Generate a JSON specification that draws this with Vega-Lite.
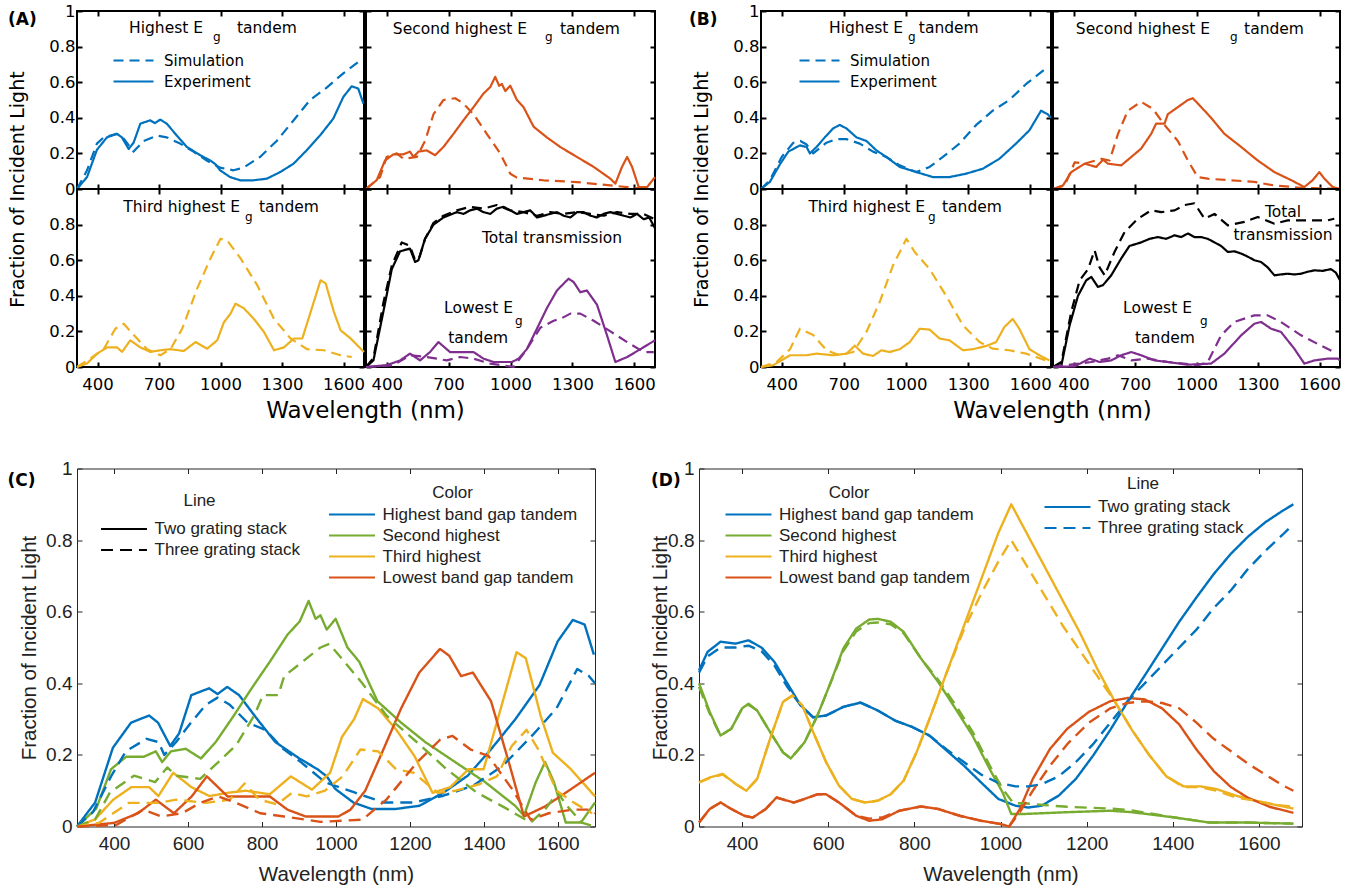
{
"$schema":"https://vega.github.io/schema/vega-lite/v6.json",
"background":"white",
"padding":{"left":7,"top":2,"right":5,"bottom":5},
"config":{
 "view":{"stroke":"black","strokeWidth":2},
 "axis":{"domain":false,"grid":false,"tickColor":"black","tickWidth":2,"tickSize":-5,"labelColor":"black","labelFont":"DejaVu Sans","labelFontSize":16.5,"labelPadding":7,"labelFlush":false,"labelOverlap":false,"titleColor":"black","titleFont":"DejaVu Sans","titleFontWeight":"normal","titleFontSize":21},
 "axisBottom":{"labelPadding":14},
 "line":{"strokeWidth":2.2,"strokeJoin":"round"},
 "text":{"font":"DejaVu Sans","fontSize":15.5,"color":"black"}
},
"datasets":{
"A":[
{"x":300,"y":0,"c":"hi","t":"E"},{"x":349,"y":0.067,"c":"hi","t":"E"},{"x":397,"y":0.22,"c":"hi","t":"E"},{"x":446,"y":0.29,"c":"hi","t":"E"},{"x":495,"y":0.31,"c":"hi","t":"E"},{"x":519,"y":0.29,"c":"hi","t":"E"},{"x":552,"y":0.225,"c":"hi","t":"E"},{"x":576,"y":0.26,"c":"hi","t":"E"},{"x":609,"y":0.367,"c":"hi","t":"E"},{"x":657,"y":0.386,"c":"hi","t":"E"},{"x":680,"y":0.37,"c":"hi","t":"E"},{"x":706,"y":0.39,"c":"hi","t":"E"},{"x":738,"y":0.367,"c":"hi","t":"E"},{"x":787,"y":0.3,"c":"hi","t":"E"},{"x":836,"y":0.236,"c":"hi","t":"E"},{"x":901,"y":0.19,"c":"hi","t":"E"},{"x":950,"y":0.16,"c":"hi","t":"E"},{"x":975,"y":0.14,"c":"hi","t":"E"},{"x":998,"y":0.105,"c":"hi","t":"E"},{"x":1047,"y":0.067,"c":"hi","t":"E"},{"x":1096,"y":0.049,"c":"hi","t":"E"},{"x":1161,"y":0.049,"c":"hi","t":"E"},{"x":1226,"y":0.058,"c":"hi","t":"E"},{"x":1291,"y":0.095,"c":"hi","t":"E"},{"x":1356,"y":0.142,"c":"hi","t":"E"},{"x":1420,"y":0.217,"c":"hi","t":"E"},{"x":1485,"y":0.3,"c":"hi","t":"E"},{"x":1550,"y":0.395,"c":"hi","t":"E"},{"x":1599,"y":0.517,"c":"hi","t":"E"},{"x":1640,"y":0.577,"c":"hi","t":"E"},{"x":1672,"y":0.564,"c":"hi","t":"E"},{"x":1697,"y":0.48,"c":"hi","t":"E"},
{"x":300,"y":0,"c":"hi","t":"S"},{"x":349,"y":0.105,"c":"hi","t":"S"},{"x":397,"y":0.255,"c":"hi","t":"S"},{"x":430,"y":0.29,"c":"hi","t":"S"},{"x":495,"y":0.31,"c":"hi","t":"S"},{"x":530,"y":0.28,"c":"hi","t":"S"},{"x":576,"y":0.21,"c":"hi","t":"S"},{"x":625,"y":0.27,"c":"hi","t":"S"},{"x":690,"y":0.3,"c":"hi","t":"S"},{"x":738,"y":0.29,"c":"hi","t":"S"},{"x":803,"y":0.255,"c":"hi","t":"S"},{"x":868,"y":0.21,"c":"hi","t":"S"},{"x":933,"y":0.16,"c":"hi","t":"S"},{"x":998,"y":0.12,"c":"hi","t":"S"},{"x":1063,"y":0.105,"c":"hi","t":"S"},{"x":1112,"y":0.12,"c":"hi","t":"S"},{"x":1193,"y":0.18,"c":"hi","t":"S"},{"x":1274,"y":0.27,"c":"hi","t":"S"},{"x":1356,"y":0.385,"c":"hi","t":"S"},{"x":1437,"y":0.5,"c":"hi","t":"S"},{"x":1518,"y":0.57,"c":"hi","t":"S"},{"x":1599,"y":0.65,"c":"hi","t":"S"},{"x":1680,"y":0.72,"c":"hi","t":"S"},
{"x":300,"y":0,"c":"se","t":"E"},{"x":352,"y":0.05,"c":"se","t":"E"},{"x":392,"y":0.16,"c":"se","t":"E"},{"x":433,"y":0.195,"c":"se","t":"E"},{"x":481,"y":0.195,"c":"se","t":"E"},{"x":513,"y":0.21,"c":"se","t":"E"},{"x":530,"y":0.18,"c":"se","t":"E"},{"x":554,"y":0.21,"c":"se","t":"E"},{"x":594,"y":0.217,"c":"se","t":"E"},{"x":635,"y":0.19,"c":"se","t":"E"},{"x":675,"y":0.236,"c":"se","t":"E"},{"x":724,"y":0.31,"c":"se","t":"E"},{"x":772,"y":0.386,"c":"se","t":"E"},{"x":821,"y":0.46,"c":"se","t":"E"},{"x":869,"y":0.536,"c":"se","t":"E"},{"x":902,"y":0.573,"c":"se","t":"E"},{"x":926,"y":0.63,"c":"se","t":"E"},{"x":945,"y":0.58,"c":"se","t":"E"},{"x":958,"y":0.59,"c":"se","t":"E"},{"x":975,"y":0.55,"c":"se","t":"E"},{"x":999,"y":0.58,"c":"se","t":"E"},{"x":1031,"y":0.5,"c":"se","t":"E"},{"x":1063,"y":0.46,"c":"se","t":"E"},{"x":1112,"y":0.35,"c":"se","t":"E"},{"x":1176,"y":0.29,"c":"se","t":"E"},{"x":1241,"y":0.236,"c":"se","t":"E"},{"x":1322,"y":0.18,"c":"se","t":"E"},{"x":1403,"y":0.124,"c":"se","t":"E"},{"x":1484,"y":0.058,"c":"se","t":"E"},{"x":1508,"y":0.03,"c":"se","t":"E"},{"x":1540,"y":0.124,"c":"se","t":"E"},{"x":1565,"y":0.18,"c":"se","t":"E"},{"x":1589,"y":0.124,"c":"se","t":"E"},{"x":1621,"y":0.011,"c":"se","t":"E"},{"x":1662,"y":0.011,"c":"se","t":"E"},{"x":1700,"y":0.067,"c":"se","t":"E"},
{"x":300,"y":0,"c":"se","t":"S"},{"x":368,"y":0.067,"c":"se","t":"S"},{"x":400,"y":0.18,"c":"se","t":"S"},{"x":449,"y":0.2,"c":"se","t":"S"},{"x":481,"y":0.17,"c":"se","t":"S"},{"x":546,"y":0.18,"c":"se","t":"S"},{"x":586,"y":0.27,"c":"se","t":"S"},{"x":627,"y":0.42,"c":"se","t":"S"},{"x":675,"y":0.5,"c":"se","t":"S"},{"x":732,"y":0.51,"c":"se","t":"S"},{"x":772,"y":0.48,"c":"se","t":"S"},{"x":821,"y":0.42,"c":"se","t":"S"},{"x":885,"y":0.31,"c":"se","t":"S"},{"x":950,"y":0.2,"c":"se","t":"S"},{"x":999,"y":0.086,"c":"se","t":"S"},{"x":1031,"y":0.064,"c":"se","t":"S"},{"x":1160,"y":0.049,"c":"se","t":"S"},{"x":1322,"y":0.039,"c":"se","t":"S"},{"x":1484,"y":0.02,"c":"se","t":"S"},{"x":1565,"y":0.011,"c":"se","t":"S"},{"x":1645,"y":0,"c":"se","t":"S"},{"x":1700,"y":0,"c":"se","t":"S"},
{"x":300,"y":0,"c":"th","t":"E"},{"x":349,"y":0.02,"c":"th","t":"E"},{"x":398,"y":0.075,"c":"th","t":"E"},{"x":447,"y":0.11,"c":"th","t":"E"},{"x":495,"y":0.11,"c":"th","t":"E"},{"x":520,"y":0.085,"c":"th","t":"E"},{"x":560,"y":0.15,"c":"th","t":"E"},{"x":609,"y":0.11,"c":"th","t":"E"},{"x":658,"y":0.085,"c":"th","t":"E"},{"x":707,"y":0.094,"c":"th","t":"E"},{"x":756,"y":0.1,"c":"th","t":"E"},{"x":821,"y":0.09,"c":"th","t":"E"},{"x":878,"y":0.14,"c":"th","t":"E"},{"x":935,"y":0.103,"c":"th","t":"E"},{"x":984,"y":0.15,"c":"th","t":"E"},{"x":1016,"y":0.25,"c":"th","t":"E"},{"x":1049,"y":0.3,"c":"th","t":"E"},{"x":1073,"y":0.356,"c":"th","t":"E"},{"x":1114,"y":0.33,"c":"th","t":"E"},{"x":1163,"y":0.27,"c":"th","t":"E"},{"x":1212,"y":0.197,"c":"th","t":"E"},{"x":1261,"y":0.094,"c":"th","t":"E"},{"x":1309,"y":0.11,"c":"th","t":"E"},{"x":1358,"y":0.16,"c":"th","t":"E"},{"x":1399,"y":0.16,"c":"th","t":"E"},{"x":1440,"y":0.31,"c":"th","t":"E"},{"x":1488,"y":0.487,"c":"th","t":"E"},{"x":1513,"y":0.47,"c":"th","t":"E"},{"x":1553,"y":0.31,"c":"th","t":"E"},{"x":1586,"y":0.206,"c":"th","t":"E"},{"x":1635,"y":0.16,"c":"th","t":"E"},{"x":1700,"y":0.084,"c":"th","t":"E"},
{"x":300,"y":0,"c":"th","t":"S"},{"x":365,"y":0.047,"c":"th","t":"S"},{"x":430,"y":0.1,"c":"th","t":"S"},{"x":487,"y":0.215,"c":"th","t":"S"},{"x":528,"y":0.243,"c":"th","t":"S"},{"x":577,"y":0.18,"c":"th","t":"S"},{"x":642,"y":0.1,"c":"th","t":"S"},{"x":707,"y":0.066,"c":"th","t":"S"},{"x":756,"y":0.1,"c":"th","t":"S"},{"x":813,"y":0.215,"c":"th","t":"S"},{"x":886,"y":0.44,"c":"th","t":"S"},{"x":951,"y":0.61,"c":"th","t":"S"},{"x":1000,"y":0.72,"c":"th","t":"S"},{"x":1033,"y":0.71,"c":"th","t":"S"},{"x":1098,"y":0.61,"c":"th","t":"S"},{"x":1179,"y":0.46,"c":"th","t":"S"},{"x":1261,"y":0.27,"c":"th","t":"S"},{"x":1342,"y":0.16,"c":"th","t":"S"},{"x":1423,"y":0.1,"c":"th","t":"S"},{"x":1505,"y":0.094,"c":"th","t":"S"},{"x":1586,"y":0.066,"c":"th","t":"S"},{"x":1640,"y":0.056,"c":"th","t":"S"},
{"x":300,"y":0,"c":"tot","t":"E"},{"x":336,"y":0.037,"c":"tot","t":"E"},{"x":384,"y":0.31,"c":"tot","t":"E"},{"x":425,"y":0.55,"c":"tot","t":"E"},{"x":465,"y":0.65,"c":"tot","t":"E"},{"x":513,"y":0.665,"c":"tot","t":"E"},{"x":538,"y":0.59,"c":"tot","t":"E"},{"x":554,"y":0.6,"c":"tot","t":"E"},{"x":586,"y":0.72,"c":"tot","t":"E"},{"x":627,"y":0.8,"c":"tot","t":"E"},{"x":675,"y":0.84,"c":"tot","t":"E"},{"x":740,"y":0.87,"c":"tot","t":"E"},{"x":772,"y":0.86,"c":"tot","t":"E"},{"x":804,"y":0.88,"c":"tot","t":"E"},{"x":837,"y":0.89,"c":"tot","t":"E"},{"x":869,"y":0.87,"c":"tot","t":"E"},{"x":902,"y":0.86,"c":"tot","t":"E"},{"x":934,"y":0.89,"c":"tot","t":"E"},{"x":966,"y":0.9,"c":"tot","t":"E"},{"x":999,"y":0.88,"c":"tot","t":"E"},{"x":1031,"y":0.86,"c":"tot","t":"E"},{"x":1063,"y":0.87,"c":"tot","t":"E"},{"x":1096,"y":0.88,"c":"tot","t":"E"},{"x":1128,"y":0.84,"c":"tot","t":"E"},{"x":1160,"y":0.85,"c":"tot","t":"E"},{"x":1193,"y":0.86,"c":"tot","t":"E"},{"x":1225,"y":0.87,"c":"tot","t":"E"},{"x":1257,"y":0.85,"c":"tot","t":"E"},{"x":1290,"y":0.84,"c":"tot","t":"E"},{"x":1322,"y":0.87,"c":"tot","t":"E"},{"x":1355,"y":0.87,"c":"tot","t":"E"},{"x":1387,"y":0.85,"c":"tot","t":"E"},{"x":1419,"y":0.84,"c":"tot","t":"E"},{"x":1451,"y":0.86,"c":"tot","t":"E"},{"x":1484,"y":0.87,"c":"tot","t":"E"},{"x":1516,"y":0.86,"c":"tot","t":"E"},{"x":1549,"y":0.85,"c":"tot","t":"E"},{"x":1581,"y":0.84,"c":"tot","t":"E"},{"x":1613,"y":0.86,"c":"tot","t":"E"},{"x":1645,"y":0.83,"c":"tot","t":"E"},{"x":1672,"y":0.84,"c":"tot","t":"E"},{"x":1700,"y":0.78,"c":"tot","t":"E"},
{"x":300,"y":0,"c":"tot","t":"S"},{"x":336,"y":0.05,"c":"tot","t":"S"},{"x":384,"y":0.36,"c":"tot","t":"S"},{"x":425,"y":0.57,"c":"tot","t":"S"},{"x":473,"y":0.7,"c":"tot","t":"S"},{"x":513,"y":0.68,"c":"tot","t":"S"},{"x":538,"y":0.6,"c":"tot","t":"S"},{"x":560,"y":0.62,"c":"tot","t":"S"},{"x":586,"y":0.72,"c":"tot","t":"S"},{"x":627,"y":0.81,"c":"tot","t":"S"},{"x":675,"y":0.85,"c":"tot","t":"S"},{"x":740,"y":0.88,"c":"tot","t":"S"},{"x":804,"y":0.9,"c":"tot","t":"S"},{"x":869,"y":0.89,"c":"tot","t":"S"},{"x":934,"y":0.91,"c":"tot","t":"S"},{"x":999,"y":0.88,"c":"tot","t":"S"},{"x":1063,"y":0.87,"c":"tot","t":"S"},{"x":1128,"y":0.85,"c":"tot","t":"S"},{"x":1193,"y":0.87,"c":"tot","t":"S"},{"x":1257,"y":0.86,"c":"tot","t":"S"},{"x":1322,"y":0.87,"c":"tot","t":"S"},{"x":1387,"y":0.86,"c":"tot","t":"S"},{"x":1451,"y":0.85,"c":"tot","t":"S"},{"x":1516,"y":0.87,"c":"tot","t":"S"},{"x":1581,"y":0.86,"c":"tot","t":"S"},{"x":1645,"y":0.86,"c":"tot","t":"S"},{"x":1700,"y":0.83,"c":"tot","t":"S"},
{"x":300,"y":0,"c":"lo","t":"E"},{"x":400,"y":0.01,"c":"lo","t":"E"},{"x":465,"y":0.037,"c":"lo","t":"E"},{"x":513,"y":0.075,"c":"lo","t":"E"},{"x":562,"y":0.037,"c":"lo","t":"E"},{"x":610,"y":0.084,"c":"lo","t":"E"},{"x":651,"y":0.14,"c":"lo","t":"E"},{"x":707,"y":0.084,"c":"lo","t":"E"},{"x":756,"y":0.084,"c":"lo","t":"E"},{"x":821,"y":0.084,"c":"lo","t":"E"},{"x":869,"y":0.047,"c":"lo","t":"E"},{"x":918,"y":0.028,"c":"lo","t":"E"},{"x":1007,"y":0.028,"c":"lo","t":"E"},{"x":1039,"y":0.047,"c":"lo","t":"E"},{"x":1079,"y":0.1,"c":"lo","t":"E"},{"x":1128,"y":0.215,"c":"lo","t":"E"},{"x":1176,"y":0.33,"c":"lo","t":"E"},{"x":1225,"y":0.43,"c":"lo","t":"E"},{"x":1281,"y":0.496,"c":"lo","t":"E"},{"x":1306,"y":0.477,"c":"lo","t":"E"},{"x":1338,"y":0.42,"c":"lo","t":"E"},{"x":1370,"y":0.43,"c":"lo","t":"E"},{"x":1419,"y":0.35,"c":"lo","t":"E"},{"x":1467,"y":0.18,"c":"lo","t":"E"},{"x":1508,"y":0.028,"c":"lo","t":"E"},{"x":1565,"y":0.056,"c":"lo","t":"E"},{"x":1629,"y":0.1,"c":"lo","t":"E"},{"x":1700,"y":0.15,"c":"lo","t":"E"},
{"x":300,"y":0,"c":"lo","t":"S"},{"x":433,"y":0.01,"c":"lo","t":"S"},{"x":513,"y":0.066,"c":"lo","t":"S"},{"x":594,"y":0.056,"c":"lo","t":"S"},{"x":643,"y":0.047,"c":"lo","t":"S"},{"x":691,"y":0.037,"c":"lo","t":"S"},{"x":756,"y":0.056,"c":"lo","t":"S"},{"x":821,"y":0.047,"c":"lo","t":"S"},{"x":902,"y":0.019,"c":"lo","t":"S"},{"x":1015,"y":0,"c":"lo","t":"S"},{"x":1079,"y":0.1,"c":"lo","t":"S"},{"x":1144,"y":0.22,"c":"lo","t":"S"},{"x":1209,"y":0.26,"c":"lo","t":"S"},{"x":1241,"y":0.27,"c":"lo","t":"S"},{"x":1290,"y":0.3,"c":"lo","t":"S"},{"x":1338,"y":0.3,"c":"lo","t":"S"},{"x":1403,"y":0.26,"c":"lo","t":"S"},{"x":1484,"y":0.2,"c":"lo","t":"S"},{"x":1565,"y":0.14,"c":"lo","t":"S"},{"x":1645,"y":0.084,"c":"lo","t":"S"},{"x":1694,"y":0.084,"c":"lo","t":"S"}
],
"B":[
{"x":300,"y":0,"c":"hi","t":"E"},{"x":343,"y":0.04,"c":"hi","t":"E"},{"x":392,"y":0.14,"c":"hi","t":"E"},{"x":432,"y":0.21,"c":"hi","t":"E"},{"x":488,"y":0.245,"c":"hi","t":"E"},{"x":520,"y":0.236,"c":"hi","t":"E"},{"x":536,"y":0.2,"c":"hi","t":"E"},{"x":568,"y":0.236,"c":"hi","t":"E"},{"x":608,"y":0.29,"c":"hi","t":"E"},{"x":648,"y":0.34,"c":"hi","t":"E"},{"x":680,"y":0.36,"c":"hi","t":"E"},{"x":713,"y":0.34,"c":"hi","t":"E"},{"x":761,"y":0.29,"c":"hi","t":"E"},{"x":809,"y":0.27,"c":"hi","t":"E"},{"x":857,"y":0.217,"c":"hi","t":"E"},{"x":905,"y":0.18,"c":"hi","t":"E"},{"x":970,"y":0.124,"c":"hi","t":"E"},{"x":1050,"y":0.095,"c":"hi","t":"E"},{"x":1130,"y":0.067,"c":"hi","t":"E"},{"x":1210,"y":0.067,"c":"hi","t":"E"},{"x":1290,"y":0.086,"c":"hi","t":"E"},{"x":1371,"y":0.114,"c":"hi","t":"E"},{"x":1451,"y":0.17,"c":"hi","t":"E"},{"x":1531,"y":0.255,"c":"hi","t":"E"},{"x":1596,"y":0.33,"c":"hi","t":"E"},{"x":1652,"y":0.44,"c":"hi","t":"E"},{"x":1684,"y":0.42,"c":"hi","t":"E"},{"x":1700,"y":0.4,"c":"hi","t":"E"},
{"x":300,"y":0,"c":"hi","t":"S"},{"x":343,"y":0.05,"c":"hi","t":"S"},{"x":400,"y":0.18,"c":"hi","t":"S"},{"x":456,"y":0.26,"c":"hi","t":"S"},{"x":490,"y":0.27,"c":"hi","t":"S"},{"x":520,"y":0.25,"c":"hi","t":"S"},{"x":552,"y":0.2,"c":"hi","t":"S"},{"x":616,"y":0.26,"c":"hi","t":"S"},{"x":664,"y":0.28,"c":"hi","t":"S"},{"x":713,"y":0.28,"c":"hi","t":"S"},{"x":777,"y":0.255,"c":"hi","t":"S"},{"x":841,"y":0.21,"c":"hi","t":"S"},{"x":905,"y":0.18,"c":"hi","t":"S"},{"x":970,"y":0.133,"c":"hi","t":"S"},{"x":1050,"y":0.095,"c":"hi","t":"S"},{"x":1114,"y":0.124,"c":"hi","t":"S"},{"x":1178,"y":0.18,"c":"hi","t":"S"},{"x":1258,"y":0.255,"c":"hi","t":"S"},{"x":1339,"y":0.36,"c":"hi","t":"S"},{"x":1419,"y":0.44,"c":"hi","t":"S"},{"x":1499,"y":0.5,"c":"hi","t":"S"},{"x":1580,"y":0.59,"c":"hi","t":"S"},{"x":1668,"y":0.67,"c":"hi","t":"S"},
{"x":300,"y":0,"c":"se","t":"E"},{"x":349,"y":0.02,"c":"se","t":"E"},{"x":389,"y":0.095,"c":"se","t":"E"},{"x":454,"y":0.142,"c":"se","t":"E"},{"x":511,"y":0.124,"c":"se","t":"E"},{"x":544,"y":0.165,"c":"se","t":"E"},{"x":568,"y":0.142,"c":"se","t":"E"},{"x":633,"y":0.133,"c":"se","t":"E"},{"x":682,"y":0.18,"c":"se","t":"E"},{"x":730,"y":0.227,"c":"se","t":"E"},{"x":779,"y":0.31,"c":"se","t":"E"},{"x":803,"y":0.367,"c":"se","t":"E"},{"x":844,"y":0.367,"c":"se","t":"E"},{"x":860,"y":0.42,"c":"se","t":"E"},{"x":909,"y":0.46,"c":"se","t":"E"},{"x":958,"y":0.5,"c":"se","t":"E"},{"x":982,"y":0.51,"c":"se","t":"E"},{"x":1023,"y":0.46,"c":"se","t":"E"},{"x":1071,"y":0.4,"c":"se","t":"E"},{"x":1136,"y":0.31,"c":"se","t":"E"},{"x":1218,"y":0.236,"c":"se","t":"E"},{"x":1299,"y":0.16,"c":"se","t":"E"},{"x":1380,"y":0.095,"c":"se","t":"E"},{"x":1461,"y":0.05,"c":"se","t":"E"},{"x":1526,"y":0.011,"c":"se","t":"E"},{"x":1567,"y":0.05,"c":"se","t":"E"},{"x":1599,"y":0.095,"c":"se","t":"E"},{"x":1624,"y":0.058,"c":"se","t":"E"},{"x":1664,"y":0.011,"c":"se","t":"E"},{"x":1700,"y":0,"c":"se","t":"E"},
{"x":300,"y":0,"c":"se","t":"S"},{"x":357,"y":0.02,"c":"se","t":"S"},{"x":406,"y":0.15,"c":"se","t":"S"},{"x":454,"y":0.142,"c":"se","t":"S"},{"x":536,"y":0.17,"c":"se","t":"S"},{"x":576,"y":0.16,"c":"se","t":"S"},{"x":617,"y":0.31,"c":"se","t":"S"},{"x":665,"y":0.44,"c":"se","t":"S"},{"x":730,"y":0.49,"c":"se","t":"S"},{"x":787,"y":0.45,"c":"se","t":"S"},{"x":844,"y":0.36,"c":"se","t":"S"},{"x":909,"y":0.27,"c":"se","t":"S"},{"x":958,"y":0.16,"c":"se","t":"S"},{"x":1006,"y":0.067,"c":"se","t":"S"},{"x":1055,"y":0.058,"c":"se","t":"S"},{"x":1153,"y":0.05,"c":"se","t":"S"},{"x":1282,"y":0.04,"c":"se","t":"S"},{"x":1380,"y":0.02,"c":"se","t":"S"},{"x":1510,"y":0.007,"c":"se","t":"S"},{"x":1700,"y":0,"c":"se","t":"S"},
{"x":300,"y":0,"c":"th","t":"E"},{"x":359,"y":0.01,"c":"th","t":"E"},{"x":440,"y":0.066,"c":"th","t":"E"},{"x":520,"y":0.066,"c":"th","t":"E"},{"x":568,"y":0.075,"c":"th","t":"E"},{"x":648,"y":0.066,"c":"th","t":"E"},{"x":713,"y":0.075,"c":"th","t":"E"},{"x":753,"y":0.12,"c":"th","t":"E"},{"x":793,"y":0.075,"c":"th","t":"E"},{"x":841,"y":0.062,"c":"th","t":"E"},{"x":881,"y":0.094,"c":"th","t":"E"},{"x":921,"y":0.084,"c":"th","t":"E"},{"x":970,"y":0.1,"c":"th","t":"E"},{"x":1018,"y":0.14,"c":"th","t":"E"},{"x":1066,"y":0.215,"c":"th","t":"E"},{"x":1114,"y":0.21,"c":"th","t":"E"},{"x":1162,"y":0.16,"c":"th","t":"E"},{"x":1210,"y":0.15,"c":"th","t":"E"},{"x":1275,"y":0.094,"c":"th","t":"E"},{"x":1323,"y":0.1,"c":"th","t":"E"},{"x":1387,"y":0.118,"c":"th","t":"E"},{"x":1435,"y":0.14,"c":"th","t":"E"},{"x":1475,"y":0.225,"c":"th","t":"E"},{"x":1515,"y":0.27,"c":"th","t":"E"},{"x":1547,"y":0.215,"c":"th","t":"E"},{"x":1596,"y":0.1,"c":"th","t":"E"},{"x":1644,"y":0.066,"c":"th","t":"E"},{"x":1692,"y":0.037,"c":"th","t":"E"},
{"x":300,"y":0,"c":"th","t":"S"},{"x":375,"y":0.028,"c":"th","t":"S"},{"x":440,"y":0.1,"c":"th","t":"S"},{"x":488,"y":0.215,"c":"th","t":"S"},{"x":552,"y":0.18,"c":"th","t":"S"},{"x":616,"y":0.094,"c":"th","t":"S"},{"x":680,"y":0.066,"c":"th","t":"S"},{"x":745,"y":0.084,"c":"th","t":"S"},{"x":809,"y":0.197,"c":"th","t":"S"},{"x":873,"y":0.365,"c":"th","t":"S"},{"x":937,"y":0.57,"c":"th","t":"S"},{"x":1002,"y":0.72,"c":"th","t":"S"},{"x":1042,"y":0.646,"c":"th","t":"S"},{"x":1114,"y":0.55,"c":"th","t":"S"},{"x":1194,"y":0.4,"c":"th","t":"S"},{"x":1275,"y":0.234,"c":"th","t":"S"},{"x":1355,"y":0.14,"c":"th","t":"S"},{"x":1419,"y":0.103,"c":"th","t":"S"},{"x":1499,"y":0.094,"c":"th","t":"S"},{"x":1580,"y":0.075,"c":"th","t":"S"},{"x":1676,"y":0.037,"c":"th","t":"S"},
{"x":300,"y":0,"c":"tot","t":"E"},{"x":341,"y":0.01,"c":"tot","t":"E"},{"x":381,"y":0.234,"c":"tot","t":"E"},{"x":422,"y":0.4,"c":"tot","t":"E"},{"x":462,"y":0.487,"c":"tot","t":"E"},{"x":487,"y":0.506,"c":"tot","t":"E"},{"x":519,"y":0.45,"c":"tot","t":"E"},{"x":544,"y":0.46,"c":"tot","t":"E"},{"x":584,"y":0.515,"c":"tot","t":"E"},{"x":633,"y":0.61,"c":"tot","t":"E"},{"x":673,"y":0.68,"c":"tot","t":"E"},{"x":730,"y":0.7,"c":"tot","t":"E"},{"x":771,"y":0.72,"c":"tot","t":"E"},{"x":812,"y":0.73,"c":"tot","t":"E"},{"x":852,"y":0.72,"c":"tot","t":"E"},{"x":893,"y":0.74,"c":"tot","t":"E"},{"x":925,"y":0.73,"c":"tot","t":"E"},{"x":958,"y":0.75,"c":"tot","t":"E"},{"x":990,"y":0.73,"c":"tot","t":"E"},{"x":1023,"y":0.73,"c":"tot","t":"E"},{"x":1055,"y":0.72,"c":"tot","t":"E"},{"x":1088,"y":0.7,"c":"tot","t":"E"},{"x":1120,"y":0.68,"c":"tot","t":"E"},{"x":1153,"y":0.646,"c":"tot","t":"E"},{"x":1185,"y":0.65,"c":"tot","t":"E"},{"x":1218,"y":0.637,"c":"tot","t":"E"},{"x":1250,"y":0.62,"c":"tot","t":"E"},{"x":1282,"y":0.6,"c":"tot","t":"E"},{"x":1315,"y":0.59,"c":"tot","t":"E"},{"x":1347,"y":0.56,"c":"tot","t":"E"},{"x":1380,"y":0.515,"c":"tot","t":"E"},{"x":1412,"y":0.52,"c":"tot","t":"E"},{"x":1445,"y":0.524,"c":"tot","t":"E"},{"x":1477,"y":0.52,"c":"tot","t":"E"},{"x":1510,"y":0.524,"c":"tot","t":"E"},{"x":1542,"y":0.535,"c":"tot","t":"E"},{"x":1575,"y":0.543,"c":"tot","t":"E"},{"x":1615,"y":0.54,"c":"tot","t":"E"},{"x":1656,"y":0.55,"c":"tot","t":"E"},{"x":1680,"y":0.53,"c":"tot","t":"E"},{"x":1700,"y":0.487,"c":"tot","t":"E"},
{"x":300,"y":0,"c":"tot","t":"S"},{"x":341,"y":0.028,"c":"tot","t":"S"},{"x":389,"y":0.31,"c":"tot","t":"S"},{"x":430,"y":0.487,"c":"tot","t":"S"},{"x":471,"y":0.55,"c":"tot","t":"S"},{"x":503,"y":0.655,"c":"tot","t":"S"},{"x":527,"y":0.56,"c":"tot","t":"S"},{"x":552,"y":0.515,"c":"tot","t":"S"},{"x":600,"y":0.646,"c":"tot","t":"S"},{"x":649,"y":0.758,"c":"tot","t":"S"},{"x":714,"y":0.833,"c":"tot","t":"S"},{"x":779,"y":0.88,"c":"tot","t":"S"},{"x":828,"y":0.87,"c":"tot","t":"S"},{"x":893,"y":0.88,"c":"tot","t":"S"},{"x":942,"y":0.91,"c":"tot","t":"S"},{"x":990,"y":0.92,"c":"tot","t":"S"},{"x":1039,"y":0.833,"c":"tot","t":"S"},{"x":1088,"y":0.86,"c":"tot","t":"S"},{"x":1153,"y":0.796,"c":"tot","t":"S"},{"x":1234,"y":0.815,"c":"tot","t":"S"},{"x":1299,"y":0.843,"c":"tot","t":"S"},{"x":1380,"y":0.805,"c":"tot","t":"S"},{"x":1445,"y":0.824,"c":"tot","t":"S"},{"x":1542,"y":0.824,"c":"tot","t":"S"},{"x":1640,"y":0.824,"c":"tot","t":"S"},{"x":1672,"y":0.833,"c":"tot","t":"S"},
{"x":300,"y":0,"c":"lo","t":"E"},{"x":406,"y":0.004,"c":"lo","t":"E"},{"x":479,"y":0.047,"c":"lo","t":"E"},{"x":527,"y":0.028,"c":"lo","t":"E"},{"x":584,"y":0.037,"c":"lo","t":"E"},{"x":633,"y":0.066,"c":"lo","t":"E"},{"x":682,"y":0.084,"c":"lo","t":"E"},{"x":730,"y":0.066,"c":"lo","t":"E"},{"x":795,"y":0.037,"c":"lo","t":"E"},{"x":860,"y":0.028,"c":"lo","t":"E"},{"x":958,"y":0.013,"c":"lo","t":"E"},{"x":1071,"y":0.019,"c":"lo","t":"E"},{"x":1136,"y":0.075,"c":"lo","t":"E"},{"x":1218,"y":0.178,"c":"lo","t":"E"},{"x":1282,"y":0.243,"c":"lo","t":"E"},{"x":1315,"y":0.253,"c":"lo","t":"E"},{"x":1364,"y":0.215,"c":"lo","t":"E"},{"x":1412,"y":0.197,"c":"lo","t":"E"},{"x":1477,"y":0.103,"c":"lo","t":"E"},{"x":1526,"y":0.019,"c":"lo","t":"E"},{"x":1575,"y":0.037,"c":"lo","t":"E"},{"x":1640,"y":0.047,"c":"lo","t":"E"},{"x":1689,"y":0.047,"c":"lo","t":"E"},{"x":1700,"y":0.037,"c":"lo","t":"E"},
{"x":300,"y":0,"c":"lo","t":"S"},{"x":487,"y":0.028,"c":"lo","t":"S"},{"x":568,"y":0.047,"c":"lo","t":"S"},{"x":617,"y":0.066,"c":"lo","t":"S"},{"x":682,"y":0.037,"c":"lo","t":"S"},{"x":763,"y":0.047,"c":"lo","t":"S"},{"x":860,"y":0.028,"c":"lo","t":"S"},{"x":1006,"y":0.01,"c":"lo","t":"S"},{"x":1055,"y":0.028,"c":"lo","t":"S"},{"x":1120,"y":0.178,"c":"lo","t":"S"},{"x":1185,"y":0.253,"c":"lo","t":"S"},{"x":1282,"y":0.29,"c":"lo","t":"S"},{"x":1347,"y":0.29,"c":"lo","t":"S"},{"x":1412,"y":0.253,"c":"lo","t":"S"},{"x":1510,"y":0.178,"c":"lo","t":"S"},{"x":1607,"y":0.12,"c":"lo","t":"S"},{"x":1672,"y":0.084,"c":"lo","t":"S"}
],
"D":[
{"x":300,"y":0.436,"c":"hi","t":"2"},{"x":320,"y":0.488,"c":"hi","t":"2"},{"x":350,"y":0.516,"c":"hi","t":"2"},{"x":385,"y":0.511,"c":"hi","t":"2"},{"x":415,"y":0.52,"c":"hi","t":"2"},{"x":445,"y":0.5,"c":"hi","t":"2"},{"x":475,"y":0.46,"c":"hi","t":"2"},{"x":505,"y":0.4,"c":"hi","t":"2"},{"x":535,"y":0.34,"c":"hi","t":"2"},{"x":565,"y":0.305,"c":"hi","t":"2"},{"x":595,"y":0.31,"c":"hi","t":"2"},{"x":635,"y":0.334,"c":"hi","t":"2"},{"x":675,"y":0.346,"c":"hi","t":"2"},{"x":715,"y":0.324,"c":"hi","t":"2"},{"x":755,"y":0.296,"c":"hi","t":"2"},{"x":795,"y":0.278,"c":"hi","t":"2"},{"x":835,"y":0.254,"c":"hi","t":"2"},{"x":875,"y":0.212,"c":"hi","t":"2"},{"x":915,"y":0.17,"c":"hi","t":"2"},{"x":955,"y":0.123,"c":"hi","t":"2"},{"x":995,"y":0.077,"c":"hi","t":"2"},{"x":1035,"y":0.058,"c":"hi","t":"2"},{"x":1065,"y":0.053,"c":"hi","t":"2"},{"x":1095,"y":0.058,"c":"hi","t":"2"},{"x":1135,"y":0.086,"c":"hi","t":"2"},{"x":1175,"y":0.133,"c":"hi","t":"2"},{"x":1215,"y":0.198,"c":"hi","t":"2"},{"x":1255,"y":0.27,"c":"hi","t":"2"},{"x":1295,"y":0.348,"c":"hi","t":"2"},{"x":1335,"y":0.422,"c":"hi","t":"2"},{"x":1375,"y":0.497,"c":"hi","t":"2"},{"x":1415,"y":0.572,"c":"hi","t":"2"},{"x":1455,"y":0.64,"c":"hi","t":"2"},{"x":1495,"y":0.705,"c":"hi","t":"2"},{"x":1535,"y":0.762,"c":"hi","t":"2"},{"x":1575,"y":0.81,"c":"hi","t":"2"},{"x":1615,"y":0.85,"c":"hi","t":"2"},{"x":1655,"y":0.882,"c":"hi","t":"2"},{"x":1680,"y":0.9,"c":"hi","t":"2"},
{"x":300,"y":0.43,"c":"hi","t":"3"},{"x":320,"y":0.475,"c":"hi","t":"3"},{"x":350,"y":0.5,"c":"hi","t":"3"},{"x":385,"y":0.5,"c":"hi","t":"3"},{"x":415,"y":0.505,"c":"hi","t":"3"},{"x":445,"y":0.49,"c":"hi","t":"3"},{"x":475,"y":0.45,"c":"hi","t":"3"},{"x":505,"y":0.39,"c":"hi","t":"3"},{"x":535,"y":0.34,"c":"hi","t":"3"},{"x":565,"y":0.305,"c":"hi","t":"3"},{"x":595,"y":0.31,"c":"hi","t":"3"},{"x":635,"y":0.334,"c":"hi","t":"3"},{"x":675,"y":0.346,"c":"hi","t":"3"},{"x":715,"y":0.324,"c":"hi","t":"3"},{"x":755,"y":0.296,"c":"hi","t":"3"},{"x":795,"y":0.278,"c":"hi","t":"3"},{"x":835,"y":0.254,"c":"hi","t":"3"},{"x":875,"y":0.215,"c":"hi","t":"3"},{"x":915,"y":0.18,"c":"hi","t":"3"},{"x":955,"y":0.145,"c":"hi","t":"3"},{"x":995,"y":0.122,"c":"hi","t":"3"},{"x":1035,"y":0.112,"c":"hi","t":"3"},{"x":1065,"y":0.112,"c":"hi","t":"3"},{"x":1095,"y":0.118,"c":"hi","t":"3"},{"x":1135,"y":0.14,"c":"hi","t":"3"},{"x":1175,"y":0.18,"c":"hi","t":"3"},{"x":1215,"y":0.23,"c":"hi","t":"3"},{"x":1255,"y":0.29,"c":"hi","t":"3"},{"x":1295,"y":0.35,"c":"hi","t":"3"},{"x":1335,"y":0.4,"c":"hi","t":"3"},{"x":1375,"y":0.45,"c":"hi","t":"3"},{"x":1415,"y":0.5,"c":"hi","t":"3"},{"x":1455,"y":0.55,"c":"hi","t":"3"},{"x":1495,"y":0.61,"c":"hi","t":"3"},{"x":1535,"y":0.66,"c":"hi","t":"3"},{"x":1575,"y":0.72,"c":"hi","t":"3"},{"x":1615,"y":0.77,"c":"hi","t":"3"},{"x":1655,"y":0.815,"c":"hi","t":"3"},{"x":1680,"y":0.845,"c":"hi","t":"3"},
{"x":300,"y":0.4,"c":"se","t":"2"},{"x":325,"y":0.32,"c":"se","t":"2"},{"x":350,"y":0.254,"c":"se","t":"2"},{"x":375,"y":0.273,"c":"se","t":"2"},{"x":400,"y":0.33,"c":"se","t":"2"},{"x":415,"y":0.343,"c":"se","t":"2"},{"x":435,"y":0.324,"c":"se","t":"2"},{"x":465,"y":0.264,"c":"se","t":"2"},{"x":495,"y":0.207,"c":"se","t":"2"},{"x":513,"y":0.19,"c":"se","t":"2"},{"x":545,"y":0.235,"c":"se","t":"2"},{"x":575,"y":0.31,"c":"se","t":"2"},{"x":605,"y":0.4,"c":"se","t":"2"},{"x":635,"y":0.497,"c":"se","t":"2"},{"x":665,"y":0.553,"c":"se","t":"2"},{"x":695,"y":0.578,"c":"se","t":"2"},{"x":715,"y":0.58,"c":"se","t":"2"},{"x":745,"y":0.572,"c":"se","t":"2"},{"x":775,"y":0.544,"c":"se","t":"2"},{"x":815,"y":0.47,"c":"se","t":"2"},{"x":855,"y":0.404,"c":"se","t":"2"},{"x":895,"y":0.33,"c":"se","t":"2"},{"x":935,"y":0.254,"c":"se","t":"2"},{"x":975,"y":0.16,"c":"se","t":"2"},{"x":1005,"y":0.095,"c":"se","t":"2"},{"x":1025,"y":0.035,"c":"se","t":"2"},{"x":1055,"y":0.035,"c":"se","t":"2"},{"x":1155,"y":0.04,"c":"se","t":"2"},{"x":1255,"y":0.044,"c":"se","t":"2"},{"x":1305,"y":0.04,"c":"se","t":"2"},{"x":1405,"y":0.025,"c":"se","t":"2"},{"x":1485,"y":0.011,"c":"se","t":"2"},{"x":1575,"y":0.011,"c":"se","t":"2"},{"x":1680,"y":0.008,"c":"se","t":"2"},
{"x":300,"y":0.39,"c":"se","t":"3"},{"x":325,"y":0.315,"c":"se","t":"3"},{"x":350,"y":0.254,"c":"se","t":"3"},{"x":375,"y":0.273,"c":"se","t":"3"},{"x":400,"y":0.33,"c":"se","t":"3"},{"x":415,"y":0.34,"c":"se","t":"3"},{"x":435,"y":0.324,"c":"se","t":"3"},{"x":465,"y":0.264,"c":"se","t":"3"},{"x":495,"y":0.207,"c":"se","t":"3"},{"x":513,"y":0.19,"c":"se","t":"3"},{"x":545,"y":0.235,"c":"se","t":"3"},{"x":575,"y":0.31,"c":"se","t":"3"},{"x":605,"y":0.4,"c":"se","t":"3"},{"x":635,"y":0.49,"c":"se","t":"3"},{"x":665,"y":0.545,"c":"se","t":"3"},{"x":695,"y":0.568,"c":"se","t":"3"},{"x":715,"y":0.57,"c":"se","t":"3"},{"x":745,"y":0.565,"c":"se","t":"3"},{"x":775,"y":0.54,"c":"se","t":"3"},{"x":815,"y":0.47,"c":"se","t":"3"},{"x":855,"y":0.41,"c":"se","t":"3"},{"x":895,"y":0.34,"c":"se","t":"3"},{"x":935,"y":0.265,"c":"se","t":"3"},{"x":975,"y":0.17,"c":"se","t":"3"},{"x":1005,"y":0.105,"c":"se","t":"3"},{"x":1030,"y":0.065,"c":"se","t":"3"},{"x":1055,"y":0.065,"c":"se","t":"3"},{"x":1100,"y":0.06,"c":"se","t":"3"},{"x":1155,"y":0.055,"c":"se","t":"3"},{"x":1255,"y":0.05,"c":"se","t":"3"},{"x":1305,"y":0.045,"c":"se","t":"3"},{"x":1405,"y":0.025,"c":"se","t":"3"},{"x":1485,"y":0.011,"c":"se","t":"3"},{"x":1575,"y":0.011,"c":"se","t":"3"},{"x":1680,"y":0.008,"c":"se","t":"3"},
{"x":300,"y":0.123,"c":"th","t":"2"},{"x":325,"y":0.137,"c":"th","t":"2"},{"x":355,"y":0.147,"c":"th","t":"2"},{"x":385,"y":0.119,"c":"th","t":"2"},{"x":410,"y":0.1,"c":"th","t":"2"},{"x":435,"y":0.133,"c":"th","t":"2"},{"x":465,"y":0.245,"c":"th","t":"2"},{"x":495,"y":0.348,"c":"th","t":"2"},{"x":517,"y":0.366,"c":"th","t":"2"},{"x":540,"y":0.338,"c":"th","t":"2"},{"x":565,"y":0.264,"c":"th","t":"2"},{"x":595,"y":0.18,"c":"th","t":"2"},{"x":625,"y":0.114,"c":"th","t":"2"},{"x":655,"y":0.077,"c":"th","t":"2"},{"x":685,"y":0.067,"c":"th","t":"2"},{"x":715,"y":0.072,"c":"th","t":"2"},{"x":745,"y":0.09,"c":"th","t":"2"},{"x":775,"y":0.128,"c":"th","t":"2"},{"x":805,"y":0.207,"c":"th","t":"2"},{"x":835,"y":0.3,"c":"th","t":"2"},{"x":875,"y":0.43,"c":"th","t":"2"},{"x":915,"y":0.56,"c":"th","t":"2"},{"x":955,"y":0.69,"c":"th","t":"2"},{"x":995,"y":0.82,"c":"th","t":"2"},{"x":1025,"y":0.9,"c":"th","t":"2"},{"x":1065,"y":0.81,"c":"th","t":"2"},{"x":1105,"y":0.72,"c":"th","t":"2"},{"x":1145,"y":0.63,"c":"th","t":"2"},{"x":1185,"y":0.54,"c":"th","t":"2"},{"x":1225,"y":0.44,"c":"th","t":"2"},{"x":1265,"y":0.35,"c":"th","t":"2"},{"x":1305,"y":0.27,"c":"th","t":"2"},{"x":1345,"y":0.2,"c":"th","t":"2"},{"x":1385,"y":0.14,"c":"th","t":"2"},{"x":1425,"y":0.112,"c":"th","t":"2"},{"x":1465,"y":0.112,"c":"th","t":"2"},{"x":1500,"y":0.105,"c":"th","t":"2"},{"x":1550,"y":0.085,"c":"th","t":"2"},{"x":1600,"y":0.07,"c":"th","t":"2"},{"x":1640,"y":0.06,"c":"th","t":"2"},{"x":1680,"y":0.05,"c":"th","t":"2"},
{"x":300,"y":0.123,"c":"th","t":"3"},{"x":325,"y":0.135,"c":"th","t":"3"},{"x":355,"y":0.145,"c":"th","t":"3"},{"x":385,"y":0.119,"c":"th","t":"3"},{"x":410,"y":0.1,"c":"th","t":"3"},{"x":435,"y":0.133,"c":"th","t":"3"},{"x":465,"y":0.245,"c":"th","t":"3"},{"x":495,"y":0.348,"c":"th","t":"3"},{"x":517,"y":0.366,"c":"th","t":"3"},{"x":540,"y":0.338,"c":"th","t":"3"},{"x":565,"y":0.264,"c":"th","t":"3"},{"x":595,"y":0.18,"c":"th","t":"3"},{"x":625,"y":0.114,"c":"th","t":"3"},{"x":655,"y":0.077,"c":"th","t":"3"},{"x":685,"y":0.067,"c":"th","t":"3"},{"x":715,"y":0.072,"c":"th","t":"3"},{"x":745,"y":0.09,"c":"th","t":"3"},{"x":775,"y":0.128,"c":"th","t":"3"},{"x":805,"y":0.207,"c":"th","t":"3"},{"x":835,"y":0.3,"c":"th","t":"3"},{"x":875,"y":0.43,"c":"th","t":"3"},{"x":915,"y":0.55,"c":"th","t":"3"},{"x":955,"y":0.65,"c":"th","t":"3"},{"x":995,"y":0.74,"c":"th","t":"3"},{"x":1025,"y":0.8,"c":"th","t":"3"},{"x":1065,"y":0.72,"c":"th","t":"3"},{"x":1105,"y":0.64,"c":"th","t":"3"},{"x":1145,"y":0.56,"c":"th","t":"3"},{"x":1185,"y":0.49,"c":"th","t":"3"},{"x":1225,"y":0.42,"c":"th","t":"3"},{"x":1265,"y":0.35,"c":"th","t":"3"},{"x":1305,"y":0.27,"c":"th","t":"3"},{"x":1345,"y":0.2,"c":"th","t":"3"},{"x":1385,"y":0.14,"c":"th","t":"3"},{"x":1425,"y":0.11,"c":"th","t":"3"},{"x":1465,"y":0.11,"c":"th","t":"3"},{"x":1500,"y":0.1,"c":"th","t":"3"},{"x":1550,"y":0.08,"c":"th","t":"3"},{"x":1600,"y":0.07,"c":"th","t":"3"},{"x":1640,"y":0.06,"c":"th","t":"3"},{"x":1680,"y":0.055,"c":"th","t":"3"},
{"x":300,"y":0.011,"c":"lo","t":"2"},{"x":325,"y":0.049,"c":"lo","t":"2"},{"x":350,"y":0.067,"c":"lo","t":"2"},{"x":375,"y":0.049,"c":"lo","t":"2"},{"x":405,"y":0.03,"c":"lo","t":"2"},{"x":425,"y":0.025,"c":"lo","t":"2"},{"x":455,"y":0.049,"c":"lo","t":"2"},{"x":480,"y":0.081,"c":"lo","t":"2"},{"x":505,"y":0.072,"c":"lo","t":"2"},{"x":520,"y":0.067,"c":"lo","t":"2"},{"x":545,"y":0.077,"c":"lo","t":"2"},{"x":575,"y":0.09,"c":"lo","t":"2"},{"x":595,"y":0.09,"c":"lo","t":"2"},{"x":625,"y":0.067,"c":"lo","t":"2"},{"x":665,"y":0.03,"c":"lo","t":"2"},{"x":695,"y":0.016,"c":"lo","t":"2"},{"x":725,"y":0.02,"c":"lo","t":"2"},{"x":765,"y":0.044,"c":"lo","t":"2"},{"x":815,"y":0.056,"c":"lo","t":"2"},{"x":855,"y":0.049,"c":"lo","t":"2"},{"x":905,"y":0.03,"c":"lo","t":"2"},{"x":955,"y":0.016,"c":"lo","t":"2"},{"x":1000,"y":0.007,"c":"lo","t":"2"},{"x":1020,"y":0,"c":"lo","t":"2"},{"x":1045,"y":0.049,"c":"lo","t":"2"},{"x":1075,"y":0.133,"c":"lo","t":"2"},{"x":1115,"y":0.217,"c":"lo","t":"2"},{"x":1155,"y":0.273,"c":"lo","t":"2"},{"x":1205,"y":0.32,"c":"lo","t":"2"},{"x":1255,"y":0.35,"c":"lo","t":"2"},{"x":1295,"y":0.359,"c":"lo","t":"2"},{"x":1335,"y":0.355,"c":"lo","t":"2"},{"x":1375,"y":0.33,"c":"lo","t":"2"},{"x":1415,"y":0.285,"c":"lo","t":"2"},{"x":1455,"y":0.215,"c":"lo","t":"2"},{"x":1495,"y":0.155,"c":"lo","t":"2"},{"x":1535,"y":0.11,"c":"lo","t":"2"},{"x":1575,"y":0.08,"c":"lo","t":"2"},{"x":1625,"y":0.055,"c":"lo","t":"2"},{"x":1680,"y":0.038,"c":"lo","t":"2"},
{"x":300,"y":0.011,"c":"lo","t":"3"},{"x":325,"y":0.049,"c":"lo","t":"3"},{"x":350,"y":0.067,"c":"lo","t":"3"},{"x":375,"y":0.049,"c":"lo","t":"3"},{"x":405,"y":0.03,"c":"lo","t":"3"},{"x":425,"y":0.025,"c":"lo","t":"3"},{"x":455,"y":0.049,"c":"lo","t":"3"},{"x":480,"y":0.081,"c":"lo","t":"3"},{"x":505,"y":0.072,"c":"lo","t":"3"},{"x":520,"y":0.067,"c":"lo","t":"3"},{"x":545,"y":0.077,"c":"lo","t":"3"},{"x":575,"y":0.09,"c":"lo","t":"3"},{"x":595,"y":0.09,"c":"lo","t":"3"},{"x":625,"y":0.067,"c":"lo","t":"3"},{"x":665,"y":0.03,"c":"lo","t":"3"},{"x":695,"y":0.022,"c":"lo","t":"3"},{"x":725,"y":0.025,"c":"lo","t":"3"},{"x":765,"y":0.044,"c":"lo","t":"3"},{"x":815,"y":0.056,"c":"lo","t":"3"},{"x":855,"y":0.049,"c":"lo","t":"3"},{"x":905,"y":0.03,"c":"lo","t":"3"},{"x":955,"y":0.016,"c":"lo","t":"3"},{"x":1000,"y":0.007,"c":"lo","t":"3"},{"x":1020,"y":0,"c":"lo","t":"3"},{"x":1045,"y":0.04,"c":"lo","t":"3"},{"x":1075,"y":0.1,"c":"lo","t":"3"},{"x":1115,"y":0.17,"c":"lo","t":"3"},{"x":1155,"y":0.23,"c":"lo","t":"3"},{"x":1205,"y":0.29,"c":"lo","t":"3"},{"x":1255,"y":0.33,"c":"lo","t":"3"},{"x":1295,"y":0.345,"c":"lo","t":"3"},{"x":1335,"y":0.35,"c":"lo","t":"3"},{"x":1375,"y":0.345,"c":"lo","t":"3"},{"x":1415,"y":0.33,"c":"lo","t":"3"},{"x":1455,"y":0.29,"c":"lo","t":"3"},{"x":1495,"y":0.245,"c":"lo","t":"3"},{"x":1535,"y":0.21,"c":"lo","t":"3"},{"x":1575,"y":0.175,"c":"lo","t":"3"},{"x":1615,"y":0.145,"c":"lo","t":"3"},{"x":1655,"y":0.115,"c":"lo","t":"3"},{"x":1680,"y":0.1,"c":"lo","t":"3"}
]
},
"spacing":35.5,
"resolve":{"scale":{"x":"independent","y":"independent","color":"independent","strokeDash":"independent"},"axis":{"x":"independent","y":"independent"},"legend":{"color":"independent","strokeDash":"independent"}},
"vconcat":[
{"columns":5,
 "spacing":{"row":0,"column":2},
 "bounds":"flush",
 "resolve":{"scale":{"x":"independent","y":"independent","color":"independent","strokeDash":"independent"},"axis":{"x":"independent","y":"independent"},"legend":{"color":"independent","strokeDash":"independent"}},
 "concat":[
{"width":287,"height":178,
 "title":{"text":"(A)","anchor":"start","frame":"group","orient":"top","offset":0,"dx":-69,"dy":26,"baseline":"top","font":"DejaVu Sans","fontSize":17,"fontWeight":"bold","color":"black"},
 "data":{"name":"A"},
 "layer":[
  {"transform":[{"filter":"datum.c=='hi'&&datum.t=='E'"}],"mark":{"type":"line","color":"#0072BD"},"encoding":{
   "x":{"field":"x","type":"quantitative","scale":{"domain":[300,1700],"nice":false,"zero":false},"axis":{"orient":"bottom","values":[400,700,1000,1300,1600],"labels":false,"title":null}},
   "y":{"field":"y","type":"quantitative","scale":{"domain":[0,1],"nice":false,"zero":false},"axis":{"orient":"left","values":[0,0.2,0.4,0.6,0.8,1],"format":".1~f","title":"Fraction of Incident Light","titleX":-60,"titleY":178,"titleAngle":270,"titleAlign":"center","titleBaseline":"middle","titleFontSize":19}},
   "strokeDash":{"field":"t","type":"nominal","scale":{"domain":["S","E"],"range":[[10,6],[1,0]]},"legend":{"orient":"none","legendX":35,"legendY":40.5,"title":null,"symbolType":"stroke","symbolSize":1600,"symbolStrokeWidth":2.2,"symbolStrokeColor":"#0072BD","clipHeight":18,"rowPadding":3,"labelFont":"DejaVu Sans","labelFontSize":15,"labelColor":"black","labelOffset":9,"labelExpr":"datum.label=='S'?'Simulation':'Experiment'"}}}},
  {"transform":[{"filter":"datum.c=='hi'&&datum.t=='S'"}],"mark":{"type":"line","color":"#0072BD"},"encoding":{
   "x":{"field":"x","type":"quantitative","axis":{"orient":"top","values":[400,700,1000,1300,1600],"labels":false,"title":null}},
   "y":{"field":"y","type":"quantitative","axis":{"orient":"right","values":[0,0.2,0.4,0.6,0.8,1],"labels":false,"title":null}},
   "strokeDash":{"field":"t","type":"nominal","legend":{"orient":"none","legendX":35,"legendY":40.5,"title":null,"symbolType":"stroke","symbolSize":1600,"symbolStrokeWidth":2.2,"symbolStrokeColor":"#0072BD","clipHeight":18,"rowPadding":3,"labelFont":"DejaVu Sans","labelFontSize":15,"labelColor":"black","labelOffset":9,"labelExpr":"datum.label=='S'?'Simulation':'Experiment'"}}}},
  {"data":{"values":[{}]},"mark":{"type":"text","align":"right","baseline":"alphabetic"},"encoding":{"x":{"datum":915,"type":"quantitative","axis":null},"y":{"datum":0.875,"type":"quantitative","axis":null},"text":{"value":"Highest E"}}},
  {"data":{"values":[{}]},"mark":{"type":"text","align":"left","baseline":"alphabetic","fontSize":12},"encoding":{"x":{"datum":963,"type":"quantitative","axis":null},"y":{"datum":0.83,"type":"quantitative","axis":null},"text":{"value":"g"}}},
  {"data":{"values":[{}]},"mark":{"type":"text","align":"left","baseline":"alphabetic"},"encoding":{"x":{"datum":1080,"type":"quantitative","axis":null},"y":{"datum":0.875,"type":"quantitative","axis":null},"text":{"value":"tandem"}}}
 ],
 "resolve":{"axis":{"x":"independent","y":"independent"}}},
{"width":289,"height":178,
 "data":{"name":"A"},
 "layer":[
  {"transform":[{"filter":"datum.c=='se'&&datum.t=='E'"}],"mark":{"type":"line","color":"#D95319"},"encoding":{
   "x":{"field":"x","type":"quantitative","scale":{"domain":[300,1700],"nice":false,"zero":false},"axis":{"orient":"bottom","values":[400,700,1000,1300,1600],"labels":false,"title":null}},
   "y":{"field":"y","type":"quantitative","scale":{"domain":[0,1],"nice":false,"zero":false},"axis":{"orient":"left","values":[0,0.2,0.4,0.6,0.8,1],"labels":false,"title":null}},
   "strokeDash":{"field":"t","type":"nominal","scale":{"domain":["S","E"],"range":[[10,6],[1,0]]},"legend":null}}},
  {"transform":[{"filter":"datum.c=='se'&&datum.t=='S'"}],"mark":{"type":"line","color":"#D95319"},"encoding":{
   "x":{"field":"x","type":"quantitative","axis":{"orient":"top","values":[400,700,1000,1300,1600],"labels":false,"title":null}},
   "y":{"field":"y","type":"quantitative","axis":{"orient":"right","values":[0,0.2,0.4,0.6,0.8,1],"labels":false,"title":null}},
   "strokeDash":{"field":"t","type":"nominal","legend":null}}},
  {"data":{"values":[{}]},"mark":{"type":"text","align":"right","baseline":"alphabetic"},"encoding":{"x":{"datum":1080,"type":"quantitative","axis":null},"y":{"datum":0.871,"type":"quantitative","axis":null},"text":{"value":"Second highest E"}}},
  {"data":{"values":[{}]},"mark":{"type":"text","align":"left","baseline":"alphabetic","fontSize":12},"encoding":{"x":{"datum":1167,"type":"quantitative","axis":null},"y":{"datum":0.83,"type":"quantitative","axis":null},"text":{"value":"g"}}},
  {"data":{"values":[{}]},"mark":{"type":"text","align":"left","baseline":"alphabetic"},"encoding":{"x":{"datum":1240,"type":"quantitative","axis":null},"y":{"datum":0.871,"type":"quantitative","axis":null},"text":{"value":"tandem"}}}
 ],
 "resolve":{"axis":{"x":"independent","y":"independent"}}},
{"width":102,"height":178,"data":{"values":[]},"mark":"point","encoding":{},"view":{"stroke":null}},
{"width":290,"height":178,
 "title":{"text":"(B)","anchor":"start","frame":"group","orient":"top","offset":0,"dx":-72,"dy":26,"baseline":"top","font":"DejaVu Sans","fontSize":17,"fontWeight":"bold","color":"black"},
 "data":{"name":"B"},
 "layer":[
  {"transform":[{"filter":"datum.c=='hi'&&datum.t=='E'"}],"mark":{"type":"line","color":"#0072BD"},"encoding":{
   "x":{"field":"x","type":"quantitative","scale":{"domain":[300,1700],"nice":false,"zero":false},"axis":{"orient":"bottom","values":[400,700,1000,1300,1600],"labels":false,"title":null}},
   "y":{"field":"y","type":"quantitative","scale":{"domain":[0,1],"nice":false,"zero":false},"axis":{"orient":"left","values":[0,0.2,0.4,0.6,0.8,1],"format":".1~f","title":"Fraction of Incident Light","titleX":-60,"titleY":178,"titleAngle":270,"titleAlign":"center","titleBaseline":"middle","titleFontSize":19}},
   "strokeDash":{"field":"t","type":"nominal","scale":{"domain":["S","E"],"range":[[10,6],[1,0]]},"legend":{"orient":"none","legendX":37,"legendY":40.5,"title":null,"symbolType":"stroke","symbolSize":1600,"symbolStrokeWidth":2.2,"symbolStrokeColor":"#0072BD","clipHeight":18,"rowPadding":3,"labelFont":"DejaVu Sans","labelFontSize":15,"labelColor":"black","labelOffset":9,"labelExpr":"datum.label=='S'?'Simulation':'Experiment'"}}}},
  {"transform":[{"filter":"datum.c=='hi'&&datum.t=='S'"}],"mark":{"type":"line","color":"#0072BD"},"encoding":{
   "x":{"field":"x","type":"quantitative","axis":{"orient":"top","values":[400,700,1000,1300,1600],"labels":false,"title":null}},
   "y":{"field":"y","type":"quantitative","axis":{"orient":"right","values":[0,0.2,0.4,0.6,0.8,1],"labels":false,"title":null}},
   "strokeDash":{"field":"t","type":"nominal","legend":{"orient":"none","legendX":37,"legendY":40.5,"title":null,"symbolType":"stroke","symbolSize":1600,"symbolStrokeWidth":2.2,"symbolStrokeColor":"#0072BD","clipHeight":18,"rowPadding":3,"labelFont":"DejaVu Sans","labelFontSize":15,"labelColor":"black","labelOffset":9,"labelExpr":"datum.label=='S'?'Simulation':'Experiment'"}}}},
  {"data":{"values":[{}]},"mark":{"type":"text","align":"right","baseline":"alphabetic"},"encoding":{"x":{"datum":986,"type":"quantitative","axis":null},"y":{"datum":0.875,"type":"quantitative","axis":null},"text":{"value":"Highest E"}}},
  {"data":{"values":[{}]},"mark":{"type":"text","align":"left","baseline":"alphabetic","fontSize":12},"encoding":{"x":{"datum":1010,"type":"quantitative","axis":null},"y":{"datum":0.83,"type":"quantitative","axis":null},"text":{"value":"g"}}},
  {"data":{"values":[{}]},"mark":{"type":"text","align":"left","baseline":"alphabetic"},"encoding":{"x":{"datum":1062,"type":"quantitative","axis":null},"y":{"datum":0.875,"type":"quantitative","axis":null},"text":{"value":"tandem"}}}
 ],
 "resolve":{"axis":{"x":"independent","y":"independent"}}},
{"width":287,"height":178,
 "data":{"name":"B"},
 "layer":[
  {"transform":[{"filter":"datum.c=='se'&&datum.t=='E'"}],"mark":{"type":"line","color":"#D95319"},"encoding":{
   "x":{"field":"x","type":"quantitative","scale":{"domain":[300,1700],"nice":false,"zero":false},"axis":{"orient":"bottom","values":[400,700,1000,1300,1600],"labels":false,"title":null}},
   "y":{"field":"y","type":"quantitative","scale":{"domain":[0,1],"nice":false,"zero":false},"axis":{"orient":"left","values":[0,0.2,0.4,0.6,0.8,1],"labels":false,"title":null}},
   "strokeDash":{"field":"t","type":"nominal","scale":{"domain":["S","E"],"range":[[10,6],[1,0]]},"legend":null}}},
  {"transform":[{"filter":"datum.c=='se'&&datum.t=='S'"}],"mark":{"type":"line","color":"#D95319"},"encoding":{
   "x":{"field":"x","type":"quantitative","axis":{"orient":"top","values":[400,700,1000,1300,1600],"labels":false,"title":null}},
   "y":{"field":"y","type":"quantitative","axis":{"orient":"right","values":[0,0.2,0.4,0.6,0.8,1],"labels":false,"title":null}},
   "strokeDash":{"field":"t","type":"nominal","legend":null}}},
  {"data":{"values":[{}]},"mark":{"type":"text","align":"right","baseline":"alphabetic"},"encoding":{"x":{"datum":1066,"type":"quantitative","axis":null},"y":{"datum":0.871,"type":"quantitative","axis":null},"text":{"value":"Second highest E"}}},
  {"data":{"values":[{}]},"mark":{"type":"text","align":"left","baseline":"alphabetic","fontSize":12},"encoding":{"x":{"datum":1163,"type":"quantitative","axis":null},"y":{"datum":0.83,"type":"quantitative","axis":null},"text":{"value":"g"}}},
  {"data":{"values":[{}]},"mark":{"type":"text","align":"left","baseline":"alphabetic"},"encoding":{"x":{"datum":1232,"type":"quantitative","axis":null},"y":{"datum":0.871,"type":"quantitative","axis":null},"text":{"value":"tandem"}}}
 ],
 "resolve":{"axis":{"x":"independent","y":"independent"}}},
{"width":287,"height":178,
 "data":{"name":"A"},
 "layer":[
  {"transform":[{"filter":"datum.c=='th'&&datum.t=='E'"}],"mark":{"type":"line","color":"#EDB120"},"encoding":{
   "x":{"field":"x","type":"quantitative","scale":{"domain":[300,1700],"nice":false,"zero":false},"axis":{"orient":"bottom","values":[400,700,1000,1300,1600],"format":"d","title":"Wavelength (nm)","titleX":288,"titleY":43,"titleAlign":"center","titleBaseline":"middle","titleFontSize":23}},
   "y":{"field":"y","type":"quantitative","scale":{"domain":[0,1],"nice":false,"zero":false},"axis":{"orient":"left","values":[0,0.2,0.4,0.6,0.8],"format":".1~f","title":null}},
   "strokeDash":{"field":"t","type":"nominal","scale":{"domain":["S","E"],"range":[[10,6],[1,0]]},"legend":null}}},
  {"transform":[{"filter":"datum.c=='th'&&datum.t=='S'"}],"mark":{"type":"line","color":"#EDB120"},"encoding":{
   "x":{"field":"x","type":"quantitative","axis":{"orient":"top","values":[400,700,1000,1300,1600],"labels":false,"title":null}},
   "y":{"field":"y","type":"quantitative","axis":{"orient":"right","values":[0,0.2,0.4,0.6,0.8,1],"labels":false,"title":null}},
   "strokeDash":{"field":"t","type":"nominal","legend":null}}},
  {"data":{"values":[{}]},"mark":{"type":"text","align":"right","baseline":"alphabetic"},"encoding":{"x":{"datum":1095,"type":"quantitative","axis":null},"y":{"datum":0.871,"type":"quantitative","axis":null},"text":{"value":"Third highest E"}}},
  {"data":{"values":[{}]},"mark":{"type":"text","align":"left","baseline":"alphabetic","fontSize":12},"encoding":{"x":{"datum":1120,"type":"quantitative","axis":null},"y":{"datum":0.82,"type":"quantitative","axis":null},"text":{"value":"g"}}},
  {"data":{"values":[{}]},"mark":{"type":"text","align":"left","baseline":"alphabetic"},"encoding":{"x":{"datum":1188,"type":"quantitative","axis":null},"y":{"datum":0.871,"type":"quantitative","axis":null},"text":{"value":"tandem"}}}
 ],
 "resolve":{"axis":{"x":"independent","y":"independent"}}},
{"width":289,"height":178,
 "data":{"name":"A"},
 "layer":[
  {"transform":[{"filter":"(datum.c=='tot'||datum.c=='lo')&&datum.t=='E'"}],"mark":{"type":"line"},"encoding":{
   "x":{"field":"x","type":"quantitative","scale":{"domain":[300,1700],"nice":false,"zero":false},"axis":{"orient":"bottom","values":[400,700,1000,1300,1600],"format":"d","title":null}},
   "y":{"field":"y","type":"quantitative","scale":{"domain":[0,1],"nice":false,"zero":false},"axis":{"orient":"left","values":[0,0.2,0.4,0.6,0.8,1],"labels":false,"title":null}},
   "color":{"field":"c","type":"nominal","scale":{"domain":["tot","lo"],"range":["black","#7E2F8E"]},"legend":null},
   "strokeDash":{"field":"t","type":"nominal","scale":{"domain":["S","E"],"range":[[10,6],[1,0]]},"legend":null}}},
  {"transform":[{"filter":"(datum.c=='tot'||datum.c=='lo')&&datum.t=='S'"}],"mark":{"type":"line"},"encoding":{
   "x":{"field":"x","type":"quantitative","axis":{"orient":"top","values":[400,700,1000,1300,1600],"labels":false,"title":null}},
   "y":{"field":"y","type":"quantitative","axis":{"orient":"right","values":[0,0.2,0.4,0.6,0.8,1],"labels":false,"title":null}},
   "color":{"field":"c","type":"nominal","legend":null},
   "strokeDash":{"field":"t","type":"nominal","legend":null}}},
  {"data":{"values":[{}]},"mark":{"type":"text","align":"center","baseline":"alphabetic"},"encoding":{"x":{"datum":1201,"type":"quantitative","axis":null},"y":{"datum":0.697,"type":"quantitative","axis":null},"text":{"value":"Total transmission"}}},
  {"data":{"values":[{}]},"mark":{"type":"text","align":"right","baseline":"alphabetic"},"encoding":{"x":{"datum":1012,"type":"quantitative","axis":null},"y":{"datum":0.303,"type":"quantitative","axis":null},"text":{"value":"Lowest E"}}},
  {"data":{"values":[{}]},"mark":{"type":"text","align":"left","baseline":"alphabetic","fontSize":12},"encoding":{"x":{"datum":1022,"type":"quantitative","axis":null},"y":{"datum":0.236,"type":"quantitative","axis":null},"text":{"value":"g"}}},
  {"data":{"values":[{}]},"mark":{"type":"text","align":"center","baseline":"alphabetic"},"encoding":{"x":{"datum":843,"type":"quantitative","axis":null},"y":{"datum":0.135,"type":"quantitative","axis":null},"text":{"value":"tandem"}}}
 ],
 "resolve":{"axis":{"x":"independent","y":"independent"}}},
{"width":102,"height":178,"data":{"values":[]},"mark":"point","encoding":{},"view":{"stroke":null}},
{"width":290,"height":178,
 "data":{"name":"B"},
 "layer":[
  {"transform":[{"filter":"datum.c=='th'&&datum.t=='E'"}],"mark":{"type":"line","color":"#EDB120"},"encoding":{
   "x":{"field":"x","type":"quantitative","scale":{"domain":[300,1700],"nice":false,"zero":false},"axis":{"orient":"bottom","values":[400,700,1000,1300,1600],"format":"d","title":"Wavelength (nm)","titleX":291,"titleY":43,"titleAlign":"center","titleBaseline":"middle","titleFontSize":23}},
   "y":{"field":"y","type":"quantitative","scale":{"domain":[0,1],"nice":false,"zero":false},"axis":{"orient":"left","values":[0,0.2,0.4,0.6,0.8],"format":".1~f","title":null}},
   "strokeDash":{"field":"t","type":"nominal","scale":{"domain":["S","E"],"range":[[10,6],[1,0]]},"legend":null}}},
  {"transform":[{"filter":"datum.c=='th'&&datum.t=='S'"}],"mark":{"type":"line","color":"#EDB120"},"encoding":{
   "x":{"field":"x","type":"quantitative","axis":{"orient":"top","values":[400,700,1000,1300,1600],"labels":false,"title":null}},
   "y":{"field":"y","type":"quantitative","axis":{"orient":"right","values":[0,0.2,0.4,0.6,0.8,1],"labels":false,"title":null}},
   "strokeDash":{"field":"t","type":"nominal","legend":null}}},
  {"data":{"values":[{}]},"mark":{"type":"text","align":"right","baseline":"alphabetic"},"encoding":{"x":{"datum":1092,"type":"quantitative","axis":null},"y":{"datum":0.871,"type":"quantitative","axis":null},"text":{"value":"Third highest E"}}},
  {"data":{"values":[{}]},"mark":{"type":"text","align":"left","baseline":"alphabetic","fontSize":12},"encoding":{"x":{"datum":1106,"type":"quantitative","axis":null},"y":{"datum":0.82,"type":"quantitative","axis":null},"text":{"value":"g"}}},
  {"data":{"values":[{}]},"mark":{"type":"text","align":"left","baseline":"alphabetic"},"encoding":{"x":{"datum":1174,"type":"quantitative","axis":null},"y":{"datum":0.871,"type":"quantitative","axis":null},"text":{"value":"tandem"}}}
 ],
 "resolve":{"axis":{"x":"independent","y":"independent"}}},
{"width":287,"height":178,
 "data":{"name":"B"},
 "layer":[
  {"transform":[{"filter":"(datum.c=='tot'||datum.c=='lo')&&datum.t=='E'"}],"mark":{"type":"line"},"encoding":{
   "x":{"field":"x","type":"quantitative","scale":{"domain":[300,1700],"nice":false,"zero":false},"axis":{"orient":"bottom","values":[400,700,1000,1300,1600],"format":"d","title":null}},
   "y":{"field":"y","type":"quantitative","scale":{"domain":[0,1],"nice":false,"zero":false},"axis":{"orient":"left","values":[0,0.2,0.4,0.6,0.8,1],"labels":false,"title":null}},
   "color":{"field":"c","type":"nominal","scale":{"domain":["tot","lo"],"range":["black","#7E2F8E"]},"legend":null},
   "strokeDash":{"field":"t","type":"nominal","scale":{"domain":["S","E"],"range":[[10,6],[1,0]]},"legend":null}}},
  {"transform":[{"filter":"(datum.c=='tot'||datum.c=='lo')&&datum.t=='S'"}],"mark":{"type":"line"},"encoding":{
   "x":{"field":"x","type":"quantitative","axis":{"orient":"top","values":[400,700,1000,1300,1600],"labels":false,"title":null}},
   "y":{"field":"y","type":"quantitative","axis":{"orient":"right","values":[0,0.2,0.4,0.6,0.8,1],"labels":false,"title":null}},
   "color":{"field":"c","type":"nominal","legend":null},
   "strokeDash":{"field":"t","type":"nominal","legend":null}}},
  {"data":{"values":[{}]},"mark":{"type":"text","align":"center","baseline":"alphabetic"},"encoding":{"x":{"datum":1422,"type":"quantitative","axis":null},"y":{"datum":0.843,"type":"quantitative","axis":null},"text":{"value":"Total"}}},
  {"data":{"values":[{}]},"mark":{"type":"text","align":"center","baseline":"alphabetic"},"encoding":{"x":{"datum":1422,"type":"quantitative","axis":null},"y":{"datum":0.713,"type":"quantitative","axis":null},"text":{"value":"transmission"}}},
  {"data":{"values":[{}]},"mark":{"type":"text","align":"right","baseline":"alphabetic"},"encoding":{"x":{"datum":978,"type":"quantitative","axis":null},"y":{"datum":0.303,"type":"quantitative","axis":null},"text":{"value":"Lowest E"}}},
  {"data":{"values":[{}]},"mark":{"type":"text","align":"left","baseline":"alphabetic","fontSize":12},"encoding":{"x":{"datum":1017,"type":"quantitative","axis":null},"y":{"datum":0.236,"type":"quantitative","axis":null},"text":{"value":"g"}}},
  {"data":{"values":[{}]},"mark":{"type":"text","align":"center","baseline":"alphabetic"},"encoding":{"x":{"datum":846,"type":"quantitative","axis":null},"y":{"datum":0.135,"type":"quantitative","axis":null},"text":{"value":"tandem"}}}
 ],
 "resolve":{"axis":{"x":"independent","y":"independent"}}}
 ]},
{"spacing":104,
 "bounds":"flush",
 "resolve":{"scale":{"x":"independent","y":"independent","color":"independent","strokeDash":"independent"},"axis":{"x":"independent","y":"independent"},"legend":{"color":"independent","strokeDash":"independent"}},
 "hconcat":[
{"width":518,"height":358,
 "title":{"text":"(C)","anchor":"start","frame":"group","orient":"top","offset":0,"dx":-69.5,"dy":30,"baseline":"top","font":"DejaVu Sans","fontSize":17,"fontWeight":"bold","color":"black"},
 "view":{"stroke":"#262626","strokeWidth":1},
 "layer":[
  {"data":{"name":"A"},"transform":[{"filter":"datum.t=='E'&&datum.c!='tot'"}],"mark":{"type":"line","strokeWidth":2.4},"encoding":{
   "x":{"field":"x","type":"quantitative","scale":{"domain":[300,1700],"nice":false,"zero":false},"axis":{"orient":"bottom","values":[400,600,800,1000,1200,1400,1600],"format":"d","labelFont":"Liberation Sans","labelFontSize":19,"labelColor":"#222","labelPadding":13,"tickColor":"#262626","tickWidth":1,"tickSize":-5,"title":"Wavelength (nm)","titleFont":"Liberation Sans","titleFontSize":20.5,"titleColor":"#222","titleY":48,"titleBaseline":"middle"}},
   "y":{"field":"y","type":"quantitative","scale":{"domain":[0,1],"nice":false,"zero":false},"axis":{"orient":"left","values":[0,0.2,0.4,0.6,0.8,1],"format":".1~f","labelFont":"Liberation Sans","labelFontSize":19,"labelColor":"#222","labelPadding":10,"tickColor":"#262626","tickWidth":1,"tickSize":-5,"title":"Fraction of Incident Light","titleFont":"Liberation Sans","titleFontSize":20.5,"titleColor":"#222","titleX":-47.5,"titleY":179,"titleAngle":270,"titleAlign":"center","titleBaseline":"middle"}},
   "color":{"field":"c","type":"nominal","scale":{"domain":["hi","se","th","lo"],"range":["#0072BD","#77AC30","#EDB120","#D95319"]},"legend":{"orient":"none","legendX":250.5,"legendY":16,"title":"Color","titleAnchor":"middle","titleFont":"Liberation Sans","titleFontSize":17,"titleFontWeight":"normal","titleColor":"#222","titlePadding":4,"symbolType":"stroke","symbolSize":2116,"symbolStrokeWidth":2.5,"symbolDash":[1,0],"clipHeight":18,"rowPadding":3,"labelFont":"Liberation Sans","labelFontSize":17,"labelColor":"#222","labelOffset":6,"labelLimit":0,"labelExpr":"datum.label=='hi'?'Highest band gap tandem':datum.label=='se'?'Second highest':datum.label=='th'?'Third highest':'Lowest band gap tandem'"}},
   "strokeDash":{"datum":"Two grating stack","type":"nominal","scale":{"domain":["Two grating stack","Three grating stack"],"range":[[1,0],[12,7]]},"legend":{"orient":"none","legendX":22.5,"legendY":24.5,"title":"Line","titleAnchor":"middle","titleFont":"Liberation Sans","titleFontSize":17,"titleFontWeight":"normal","titleColor":"#222","titlePadding":10,"symbolType":"stroke","symbolSize":2116,"symbolStrokeWidth":2.5,"symbolStrokeColor":"black","clipHeight":18,"rowPadding":3,"labelFont":"Liberation Sans","labelFontSize":17,"labelColor":"#222","labelOffset":6,"labelLimit":0}}}},
  {"data":{"name":"B"},"transform":[{"filter":"datum.t=='E'&&datum.c!='tot'"}],"mark":{"type":"line","strokeWidth":2.4},"encoding":{
   "x":{"field":"x","type":"quantitative","axis":{"orient":"top","values":[400,600,800,1000,1200,1400,1600],"labels":false,"title":null,"tickColor":"#262626","tickWidth":1,"tickSize":-5}},
   "y":{"field":"y","type":"quantitative","axis":{"orient":"right","values":[0,0.2,0.4,0.6,0.8,1],"labels":false,"title":null,"tickColor":"#262626","tickWidth":1,"tickSize":-5}},
   "color":{"field":"c","type":"nominal"},
   "strokeDash":{"datum":"Three grating stack","type":"nominal"}}}
 ],
 "resolve":{"axis":{"x":"independent","y":"independent"}}},
{"width":603,"height":358,
 "title":{"text":"(D)","anchor":"start","frame":"group","orient":"top","offset":0,"dx":-48,"dy":30,"baseline":"top","font":"DejaVu Sans","fontSize":17,"fontWeight":"bold","color":"black"},
 "view":{"stroke":"#262626","strokeWidth":1},
 "data":{"name":"D"},
 "layer":[
  {"transform":[{"filter":"datum.t=='2'"}],"mark":{"type":"line","strokeWidth":2.4},"encoding":{
   "x":{"field":"x","type":"quantitative","scale":{"domain":[300,1700],"nice":false,"zero":false},"axis":{"orient":"bottom","values":[400,600,800,1000,1200,1400,1600],"format":"d","labelFont":"Liberation Sans","labelFontSize":19,"labelColor":"#222","labelPadding":13,"tickColor":"#262626","tickWidth":1,"tickSize":-5,"title":"Wavelength (nm)","titleFont":"Liberation Sans","titleFontSize":20.5,"titleColor":"#222","titleY":48,"titleBaseline":"middle"}},
   "y":{"field":"y","type":"quantitative","scale":{"domain":[0,1],"nice":false,"zero":false},"axis":{"orient":"left","values":[0,0.2,0.4,0.6,0.8,1],"format":".1~f","labelFont":"Liberation Sans","labelFontSize":19,"labelColor":"#222","labelPadding":10,"tickColor":"#262626","tickWidth":1,"tickSize":-5,"title":"Fraction of Incident Light","titleFont":"Liberation Sans","titleFontSize":20.5,"titleColor":"#222","titleX":-39,"titleY":179,"titleAngle":270,"titleAlign":"center","titleBaseline":"middle"}},
   "color":{"field":"c","type":"nominal","scale":{"domain":["hi","se","th","lo"],"range":["#0072BD","#77AC30","#EDB120","#D95319"]},"legend":{"orient":"none","legendX":25,"legendY":16,"title":"Color","titleAnchor":"middle","titleFont":"Liberation Sans","titleFontSize":17,"titleFontWeight":"normal","titleColor":"#222","titlePadding":4,"symbolType":"stroke","symbolSize":2116,"symbolStrokeWidth":2.5,"symbolDash":[1,0],"clipHeight":18,"rowPadding":3,"labelFont":"Liberation Sans","labelFontSize":17,"labelColor":"#222","labelOffset":6,"labelLimit":0,"labelExpr":"datum.label=='hi'?'Highest band gap tandem':datum.label=='se'?'Second highest':datum.label=='th'?'Third highest':'Lowest band gap tandem'"}},
   "strokeDash":{"field":"t","type":"nominal","scale":{"domain":["2","3"],"range":[[1,0],[12,7]]},"legend":{"orient":"none","legendX":344,"legendY":7.5,"title":"Line","titleAnchor":"middle","titleFont":"Liberation Sans","titleFontSize":17,"titleFontWeight":"normal","titleColor":"#222","titlePadding":5,"symbolType":"stroke","symbolSize":2116,"symbolStrokeWidth":2.5,"symbolStrokeColor":"#0072BD","clipHeight":18,"rowPadding":3,"labelFont":"Liberation Sans","labelFontSize":17,"labelColor":"#222","labelOffset":6,"labelLimit":0,"labelExpr":"datum.label=='2'?'Two grating stack':'Three grating stack'"}}}},
  {"transform":[{"filter":"datum.t=='3'"}],"mark":{"type":"line","strokeWidth":2.4},"encoding":{
   "x":{"field":"x","type":"quantitative","axis":{"orient":"top","values":[400,600,800,1000,1200,1400,1600],"labels":false,"title":null,"tickColor":"#262626","tickWidth":1,"tickSize":-5}},
   "y":{"field":"y","type":"quantitative","axis":{"orient":"right","values":[0,0.2,0.4,0.6,0.8,1],"labels":false,"title":null,"tickColor":"#262626","tickWidth":1,"tickSize":-5}},
   "color":{"field":"c","type":"nominal"},
   "strokeDash":{"field":"t","type":"nominal"}}}
 ],
 "resolve":{"axis":{"x":"independent","y":"independent"}}}
 ]}
]
}
